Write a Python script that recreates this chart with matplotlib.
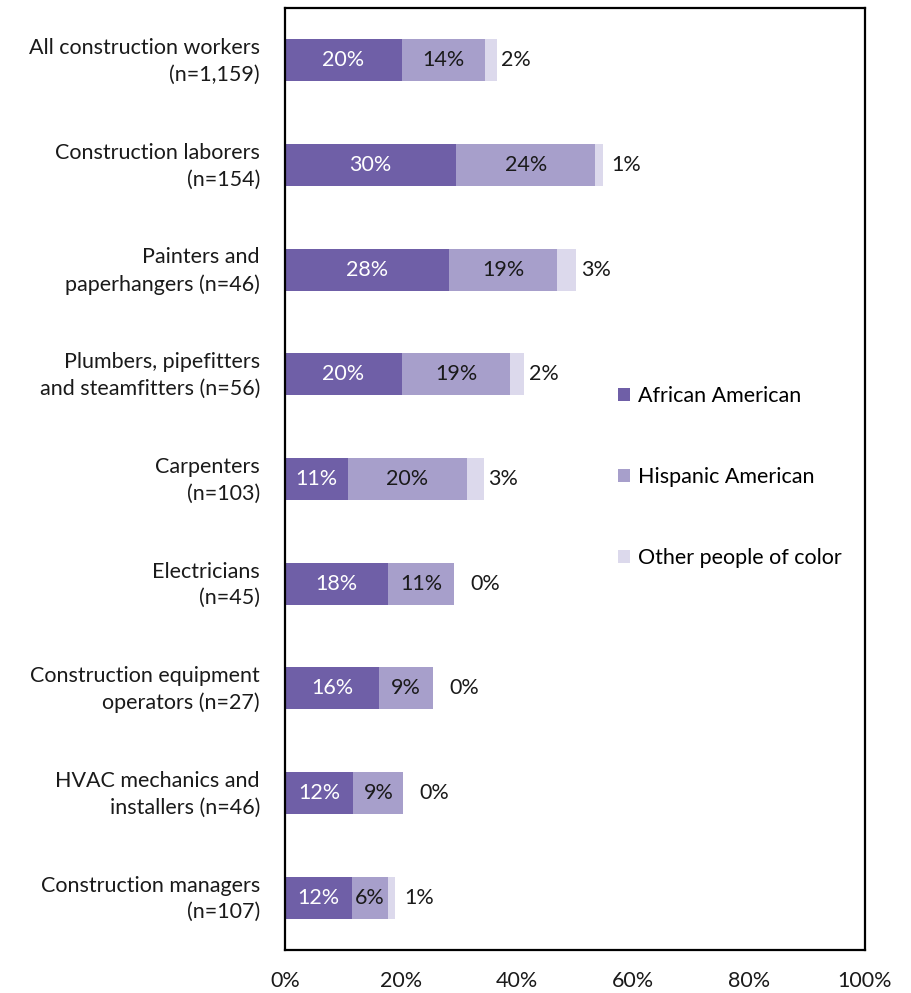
import matplotlib
matplotlib.use("Agg")
from matplotlib import pyplot as plt
from matplotlib.transforms import ScaledTranslation
import numpy as np

categories = ["All construction workers\n(n=1,159)",
              "Construction laborers\n(n=154)",
              "Painters and\npaperhangers (n=46)",
              "Plumbers, pipefitters\nand steamfitters (n=56)",
              "Carpenters\n(n=103)",
              "Electricians\n(n=45)",
              "Construction equipment\noperators (n=27)",
              "HVAC mechanics and\ninstallers (n=46)",
              "Construction managers\n(n=107)"]
africanAmerican = [20.2, 29.5, 28.3, 20.2, 10.9, 17.8, 16.2, 11.8, 11.6]
hispanicAmerican = [14.3, 24.0, 18.6, 18.6, 20.4, 11.4, 9.4, 8.6, 6.2]
otherColor = [2.0, 1.4, 3.3, 2.4, 3.0, 0.0, 0.0, 0.0, 1.1]
seriesNames = ["African American", "Hispanic American", "Other people of color"]
colors = ["#6f5fa7", "#a79fcb", "#dcd9ec"]

plt.rcParams['font.family'] = ['Lato', 'DejaVu Sans']
fontSize = 15.5

fig = plt.figure(figsize=(9.11, 9.93), dpi=100)
ax = fig.add_axes([0.3128, 0.0433, 0.6367, 0.9486])

y = np.arange(len(categories))
aa = np.array(africanAmerican)
hi = np.array(hispanicAmerican)
ot = np.array(otherColor)
barHeight = 0.4

ax.barh(y, aa, height=barHeight, color=colors[0], label=seriesNames[0])
ax.barh(y, hi, left=aa, height=barHeight, color=colors[1], label=seriesNames[1])
ax.barh(y, ot, left=aa + hi, height=barHeight, color=colors[2], label=seriesNames[2])

for i in range(len(categories)):
    ax.text(aa[i] / 2, y[i], "{:.0f}%".format(aa[i]), ha="center", va="center",
            color="white", fontsize=fontSize)
    ax.text(aa[i] + hi[i] / 2, y[i], "{:.0f}%".format(hi[i]), ha="center", va="center",
            color="#1a1a1a", fontsize=fontSize)
    start = aa[i] + hi[i]
    ax.text(max(start + ot[i] + 0.8, start + 2.8), y[i], "{:.0f}%".format(ot[i]),
            ha="left", va="center", color="#1a1a1a", fontsize=fontSize)

ax.set_xlim(0, 100)
ax.set_ylim(len(categories) - 0.5, -0.5)
ax.set_xticks(np.arange(0, 101, 20))
ax.set_xticklabels(["{}%".format(v) for v in range(0, 101, 20)], fontsize=fontSize)
ax.set_yticks(y)
ax.set_yticklabels(categories, fontsize=fontSize, linespacing=1.4)
ax.tick_params(axis="both", length=0, colors="#1a1a1a")
ax.tick_params(axis="x", pad=15)
ax.tick_params(axis="y", pad=18)
shiftUp = ScaledTranslation(0, 4 / 100, fig.dpi_scale_trans)
for label in ax.get_yticklabels():
    label.set_transform(label.get_transform() + shiftUp)
for spine in ax.spines.values():
    spine.set_linewidth(1.6)
    spine.set_color("black")

ax.legend(loc="center left", bbox_to_anchor=(0.56, 0.502), frameon=False,
          fontsize=fontSize, handlelength=0.55, handleheight=0.55, handletextpad=0.35,
          labelspacing=2.82, borderaxespad=0)

fig.savefig("out.png", dpi=100)
